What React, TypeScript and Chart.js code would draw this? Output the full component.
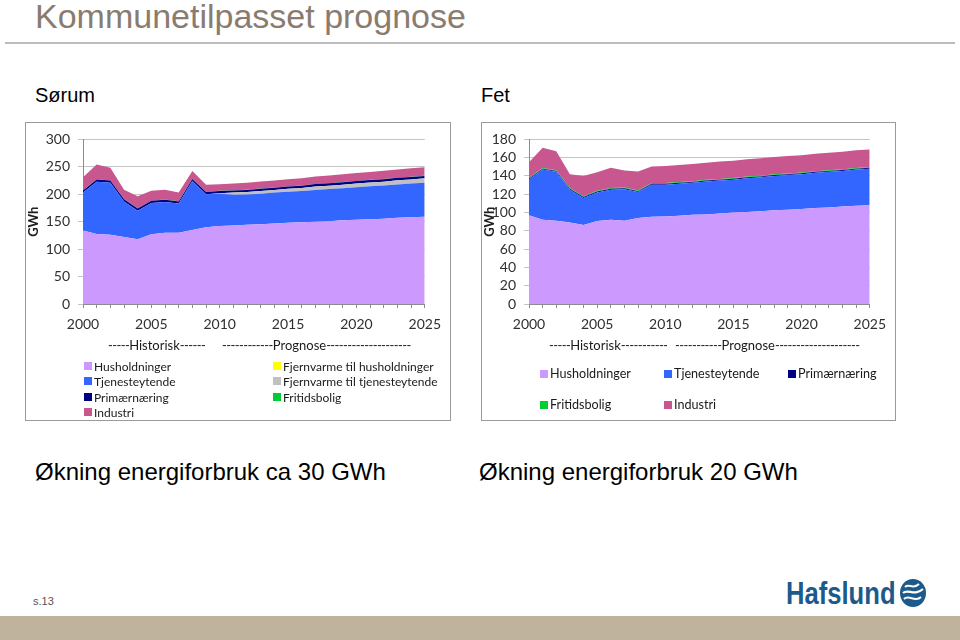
import React, { useEffect, useRef } from 'react';
import { Chart, registerables } from 'chart.js';
Chart.register(...registerables);

const years = [2000, 2001, 2002, 2003, 2004, 2005, 2006, 2007, 2008, 2009, 2010, 2011, 2012, 2013, 2014, 2015, 2016, 2017, 2018, 2019, 2020, 2021, 2022, 2023, 2024, 2025];
const sorumTicks = [0, 50, 100, 150, 200, 250, 300];
const fetTicks = [0, 20, 40, 60, 80, 100, 120, 140, 160, 180];

// Sørum (GWh)
const sorumHusholdninger = [134, 127.5, 126, 122, 118, 127, 130, 130, 135, 140, 142, 143, 144.5, 145.5, 146.5, 148, 149, 150, 151, 152.5, 153.5, 154.5, 155.5, 157, 158, 159];
const sorumTjenesteytende = [69, 95.5, 95, 65, 52, 57, 56, 53, 89, 60, 59, 56, 55, 55.5, 56.5, 56.5, 57, 58, 58.5, 58.5, 59.5, 60, 60.5, 61, 61.5, 62];
const sorumFjernvarmeHush = [0, 0, 0, 0, 0, 0, 0, 0, 0, 0, 0, 0, 0, 0, 0, 0, 0, 0, 0, 0, 0, 0, 0, 0, 0, 0];
const sorumFjernvarmeTjen = [0, 0, 0, 0, 0, 0, 0, 0, 0, 0, 1, 4, 4.5, 5, 5, 5.5, 5.5, 6, 6, 6.5, 6.5, 7, 7, 7.5, 7.5, 8];
const sorumPrimaernaering = [4, 4, 4, 4, 4, 4, 4, 4, 4, 4, 4, 4, 4, 4, 4, 4, 4, 4.5, 4.5, 4.5, 4.5, 4.5, 4.5, 4.5, 4.5, 4.5];
const sorumFritidsbolig = [0.3, 0.3, 0.3, 0.3, 0.3, 0.3, 0.3, 0.3, 0.3, 0.3, 0.3, 0.3, 0.3, 0.3, 0.3, 0.3, 0.3, 0.3, 0.3, 0.3, 0.3, 0.3, 0.3, 0.3, 0.3, 0.3];
const sorumIndustri = [23.5, 27, 23, 17, 22, 18, 18, 16, 14, 13, 12, 12.5, 12.5, 13, 13, 13, 13.5, 13.5, 14, 14, 14.5, 14.5, 15, 15, 15.5, 15.5];

// Fet (GWh)
const fetHusholdninger = [97, 92, 91, 89, 86.5, 90.7, 92, 91, 94, 95.3, 95.7, 96.5, 97.5, 98, 99, 100, 100.5, 101.5, 102.5, 103, 104, 105, 105.5, 106.5, 107.5, 108];
const fetTjenesteytende = [39, 55, 53.5, 36, 29.5, 31.3, 33, 34.6, 28.4, 35.2, 34.8, 35, 35, 36, 36, 36, 37, 37, 37.5, 38, 38, 38.5, 39, 39, 39.5, 40];
const fetPrimaernaering = [1, 1, 1, 1, 1, 1, 1, 1, 1, 1, 1, 1, 1, 1, 1, 1, 1, 1, 1, 1, 1, 1, 1, 1, 1, 1];
const fetFritidsbolig = [0.8, 0.8, 0.8, 0.8, 0.8, 0.8, 0.8, 0.8, 0.8, 0.8, 0.8, 0.8, 0.8, 0.8, 0.8, 0.8, 0.8, 0.8, 0.8, 0.8, 0.8, 0.8, 0.8, 0.8, 0.8, 0.8];
const fetIndustri = [17.2, 22.2, 20.7, 15.2, 22.2, 20.2, 22.2, 18.6, 20.8, 18.2, 18.7, 18.8, 18.8, 18.8, 18.9, 18.9, 18.9, 19, 19, 19, 19, 19.1, 19.1, 19.1, 19.2, 19.2];

const C = {
  hush: '#CC99FF',
  tjen: '#3366FF',
  prim: '#000080',
  fjHush: '#FFFF00',
  fjTjen: '#C0C0C0',
  frit: '#00CC33',
  ind: '#C8568F',
};

const AXIS_FONT = 'Lato, "Open Sans", sans-serif';

type Series = { label: string; data: number[]; color: string };

function StackChart(props: {
  left: number; top: number; width: number; height: number;
  series: Series[]; ticks: number[];
  plotLeft: number; plotRight: number; plotTop: number; plotBottom: number;
}) {
  const ref = useRef<HTMLCanvasElement | null>(null);
  const { left, top, width, height, series, ticks, plotLeft, plotRight, plotTop, plotBottom } = props;
  useEffect(() => {
    const chart = new Chart(ref.current as HTMLCanvasElement, {
      type: 'line',
      data: {
        labels: years.map(String),
        datasets: series.map((s, i) => ({
          label: s.label,
          data: s.data,
          backgroundColor: s.color,
          borderColor: s.color,
          borderWidth: 0,
          pointRadius: 0,
          tension: 0,
          fill: i === 0 ? 'origin' : '-1',
        })),
      },
      options: {
        animation: false,
        responsive: false,
        maintainAspectRatio: false,
        layout: { padding: { top: plotTop, right: width - plotRight, left: 0, bottom: 0 } },
        plugins: { legend: { display: false }, tooltip: { enabled: false } },
        scales: {
          x: {
            offset: false,
            grid: { display: true, drawOnChartArea: false, tickLength: 4, color: '#8C8C8C' },
            border: { color: '#8C8C8C' },
            ticks: {
              autoSkip: false,
              maxRotation: 0,
              padding: 8,
              color: '#303030',
              font: { family: AXIS_FONT, size: 14 },
              callback: (_v: any, i: number) => (years[i] % 5 === 0 ? String(years[i]) : ''),
            },
            afterFit: (s: any) => { s.height = height - plotBottom; },
          },
          y: {
            stacked: true,
            min: ticks[0],
            max: ticks[ticks.length - 1],
            afterBuildTicks: (s: any) => { s.ticks = ticks.map((v) => ({ value: v })); },
            grid: { color: '#C4C4C4', tickLength: 5 },
            border: { color: '#8C8C8C' },
            ticks: { autoSkip: false, padding: 8, color: '#303030', font: { family: AXIS_FONT, size: 14 } },
            title: { display: true, text: 'GWh', color: '#202020', font: { family: AXIS_FONT, size: 13, weight: 'bold' }, padding: 0 },
            afterFit: (s: any) => { s.width = plotLeft; },
          },
        },
      },
    } as any);
    return () => chart.destroy();
  }, []);
  return <canvas ref={ref} width={width} height={height} style={{ position: 'absolute', left, top, width, height }} />;
}

const abs = (left: number, top: number, extra: React.CSSProperties = {}): React.CSSProperties => ({
  position: 'absolute', left, top, whiteSpace: 'nowrap', ...extra,
});

function LegendItem({ x, y, color, text, size }: { x: number; y: number; color: string; text: string; size: number }) {
  return (
    <div style={abs(x, y - size / 2 - 1, { display: 'flex', alignItems: 'center', height: size + 2, fontFamily: AXIS_FONT, fontSize: size, color: '#1a1a1a' })}>
      <span style={{ display: 'inline-block', width: 8, height: 8, background: color, marginRight: 2 }} />
      <span>{text}</span>
    </div>
  );
}

function Dashed({ x, y, before, word, after }: { x: number; y: number; before: number; word: string; after: number }) {
  const dash = { letterSpacing: -0.6 };
  return (
    <div style={abs(x, y, { fontFamily: AXIS_FONT, fontSize: 13, lineHeight: '16px', color: '#1a1a1a' })}>
      <span style={dash}>{'-'.repeat(before)}</span>
      <span>{word}</span>
      <span style={dash}>{'-'.repeat(after)}</span>
    </div>
  );
}

export default function App() {
  const sorumSeries: Series[] = [
    { label: 'Husholdninger', data: sorumHusholdninger, color: C.hush },
    { label: 'Tjenesteytende', data: sorumTjenesteytende, color: C.tjen },
    { label: 'Fjernvarme til husholdninger', data: sorumFjernvarmeHush, color: C.fjHush },
    { label: 'Fjernvarme til tjenesteytende', data: sorumFjernvarmeTjen, color: C.fjTjen },
    { label: 'Primærnæring', data: sorumPrimaernaering, color: C.prim },
    { label: 'Fritidsbolig', data: sorumFritidsbolig, color: C.frit },
    { label: 'Industri', data: sorumIndustri, color: C.ind },
  ];
  const fetSeries: Series[] = [
    { label: 'Husholdninger', data: fetHusholdninger, color: C.hush },
    { label: 'Tjenesteytende', data: fetTjenesteytende, color: C.tjen },
    { label: 'Primærnæring', data: fetPrimaernaering, color: C.prim },
    { label: 'Fritidsbolig', data: fetFritidsbolig, color: C.frit },
    { label: 'Industri', data: fetIndustri, color: C.ind },
  ];
  const sans = '"Liberation Sans", Arial, sans-serif';
  return (
    <div style={{ position: 'absolute', left: 0, top: 0, width: 960, height: 640, background: '#fff', overflow: 'hidden', fontFamily: sans }}>
      <div style={abs(35, -1, { fontSize: 34, lineHeight: '34px', color: '#8A7B70' })}>Kommunetilpasset prognose</div>
      <div style={{ position: 'absolute', left: 5, top: 42, width: 950, height: 2, background: '#BDBDBD' }} />
      <div style={abs(35, 85, { fontSize: 20, lineHeight: '20px', color: '#000' })}>Sørum</div>
      <div style={abs(481, 85, { fontSize: 20, lineHeight: '20px', color: '#000' })}>Fet</div>

      {/* Sørum box */}
      <div style={{ position: 'absolute', left: 25, top: 122, width: 424, height: 297, border: '1px solid #9A9A9A', background: '#fff' }} />
      <StackChart left={26} top={123} width={423} height={215} series={sorumSeries} ticks={sorumTicks}
        plotLeft={57} plotRight={400} plotTop={12} plotBottom={181} />
      <Dashed x={108} y={337} before={5} word="Historisk" after={6} />
      <Dashed x={222} y={337} before={12} word="Prognose" after={20} />
      <LegendItem x={84} y={366} color={C.hush} text="Husholdninger" size={12} />
      <LegendItem x={84} y={381} color={C.tjen} text="Tjenesteytende" size={12} />
      <LegendItem x={84} y={397} color={C.prim} text="Primærnæring" size={12} />
      <LegendItem x={84} y={412} color={C.ind} text="Industri" size={12} />
      <LegendItem x={273} y={366} color={C.fjHush} text="Fjernvarme til husholdninger" size={12} />
      <LegendItem x={273} y={381} color={C.fjTjen} text="Fjernvarme til tjenesteytende" size={12} />
      <LegendItem x={273} y={397} color={C.frit} text="Fritidsbolig" size={12} />

      {/* Fet box */}
      <div style={{ position: 'absolute', left: 481, top: 122, width: 413, height: 297, border: '1px solid #9A9A9A', background: '#fff' }} />
      <StackChart left={482} top={123} width={412} height={215} series={fetSeries} ticks={fetTicks}
        plotLeft={47} plotRight={390} plotTop={12} plotBottom={181} />
      <Dashed x={549} y={337} before={5} word="Historisk" after={11} />
      <Dashed x={675} y={337} before={11} word="Prognose" after={20} />
      <LegendItem x={540} y={374} color={C.hush} text="Husholdninger" size={12.6} />
      <LegendItem x={664} y={374} color={C.tjen} text="Tjenesteytende" size={12.6} />
      <LegendItem x={788} y={374} color={C.prim} text="Primærnæring" size={12.6} />
      <LegendItem x={540} y={405} color={C.frit} text="Fritidsbolig" size={12.6} />
      <LegendItem x={664} y={405} color={C.ind} text="Industri" size={12.6} />

      <div style={abs(35, 460, { fontSize: 24, lineHeight: '24px', color: '#000' })}>Økning energiforbruk ca 30 GWh</div>
      <div style={abs(479, 460, { fontSize: 24, lineHeight: '24px', color: '#000' })}>Økning energiforbruk 20 GWh</div>

      <div style={abs(33, 595, { fontSize: 11, lineHeight: '12px', color: '#555' })}>s.13</div>
      <div style={abs(786, 577, { fontWeight: 'bold', fontSize: 32, lineHeight: '32px', color: '#1C5A8C', transform: 'scaleX(0.8)', transformOrigin: 'left top' })}>Hafslund</div>
      <svg style={{ position: 'absolute', left: 899, top: 578 }} width={28} height={30} viewBox="0 0 28 30">
        <ellipse cx={14} cy={15} rx={13} ry={14} fill="#1C5A8C" />
        <path d="M6 9 C10 5, 14 12, 20 6" stroke="#fff" strokeWidth={2} fill="none" />
        <path d="M4 15 C9 10, 15 19, 24 11" stroke="#fff" strokeWidth={2.2} fill="none" />
        <path d="M5 21 C10 16, 16 25, 22 19" stroke="#fff" strokeWidth={2} fill="none" />
      </svg>
      <div style={{ position: 'absolute', left: 0, top: 616, width: 960, height: 24, background: '#BFB39E' }} />
    </div>
  );
}
